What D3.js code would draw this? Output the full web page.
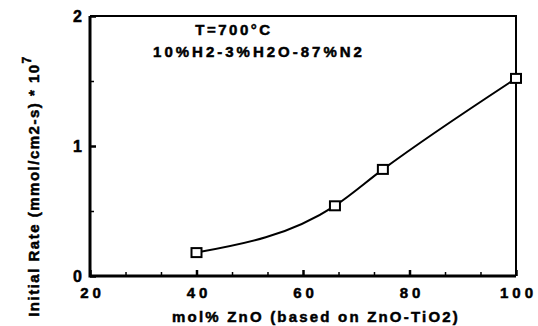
<!DOCTYPE html>
<html>
<head>
<meta charset="utf-8">
<script src="https://cdn.jsdelivr.net/npm/d3@7"></script>
<style>
  body { margin: 0; background: #fff; }
  svg { display: block; }
  text { font-family: "Liberation Sans", Arial, sans-serif; font-weight: bold; fill: #000; stroke: #000; stroke-width: 0.5px; }
</style>
</head>
<body>
<div class="chart"></div>
<script>
// mol% ZnO and initial rate (x 10^7)
const molZnO = [40, 66, 75, 100];
const rate = [0.18, 0.54, 0.82, 1.52];
const xTicks = [20, 40, 60, 80, 100];
const yTicks = [0, 1, 2];
const xMinor = [26.67, 33.33, 46.67, 53.33, 66.67, 73.33, 86.67, 93.33];
const yMinor = [0.5, 1.5];

const width = 538, height = 326;
const plotLeft = 90, plotRight = 516, plotTop = 16, plotBottom = 276;

const svg = d3.select(".chart").append("svg")
    .attr("width", width)
    .attr("height", height);

const x = d3.scaleLinear().domain([20, 100]).range([plotLeft, plotRight]);
const y = d3.scaleLinear().domain([0, 2]).range([plotBottom, plotTop]);

// frame: top/right thinner than the axes
svg.append("path")
    .attr("d", `M${plotLeft},${plotTop}H${plotRight}V${plotBottom}`)
    .attr("fill", "none")
    .attr("stroke", "#000")
    .attr("stroke-width", 2);

svg.append("path")
    .attr("d", `M${plotLeft},${plotTop}V${plotBottom}H${plotRight}`)
    .attr("fill", "none")
    .attr("stroke", "#000")
    .attr("stroke-width", 3);

// x axis
const gx = svg.append("g")
    .attr("transform", `translate(0,${plotBottom})`)
    .call(d3.axisBottom(x).tickValues(xTicks).tickSize(-6).tickPadding(11).tickFormat(d3.format("d")));
gx.select(".domain").remove();
gx.selectAll("line").attr("stroke-width", 2.5);
gx.selectAll("text")
    .style("font-size", "15px")
    .style("letter-spacing", "4px")
    .attr("dx", "2px");

svg.append("g")
    .attr("transform", `translate(0,${plotBottom})`)
    .call(d3.axisBottom(x).tickValues(xMinor).tickSize(-4).tickFormat(""))
    .call(g => g.select(".domain").remove())
    .selectAll("line").attr("stroke-width", 1.5);

// y axis
const gy = svg.append("g")
    .attr("transform", `translate(${plotLeft},0)`)
    .call(d3.axisLeft(y).tickValues(yTicks).tickSize(-6).tickPadding(8).tickFormat(d3.format("d")));
gy.select(".domain").remove();
gy.selectAll("line").attr("stroke-width", 2.5);
gy.selectAll("text").style("font-size", "16px");

svg.append("g")
    .attr("transform", `translate(${plotLeft},0)`)
    .call(d3.axisLeft(y).tickValues(yMinor).tickSize(-4).tickFormat(""))
    .call(g => g.select(".domain").remove())
    .selectAll("line").attr("stroke-width", 1.5);

// curve
const pts = molZnO.map((d, i) => [d, rate[i]]);
const line = d3.line()
    .x(d => x(d[0]))
    .y(d => y(d[1]))
    .curve(d3.curveMonotoneX);

svg.append("path")
    .datum(pts)
    .attr("fill", "none")
    .attr("stroke", "#000")
    .attr("stroke-width", 2)
    .attr("d", line);

svg.selectAll(".marker")
    .data(pts)
    .enter()
    .append("rect")
    .attr("class", "marker")
    .attr("x", d => x(d[0]) - 5)
    .attr("y", d => y(d[1]) - 4.5)
    .attr("width", 10)
    .attr("height", 9)
    .attr("fill", "#fff")
    .attr("stroke", "#000")
    .attr("stroke-width", 2);

// annotation
svg.append("text")
    .attr("x", 234).attr("y", 35)
    .attr("text-anchor", "middle")
    .style("font-size", "15px")
    .style("letter-spacing", "2.5px")
    .text("T=700°C");

svg.append("text")
    .attr("x", 259).attr("y", 57)
    .attr("text-anchor", "middle")
    .style("font-size", "15px")
    .style("letter-spacing", "3px")
    .text("10%H2-3%H2O-87%N2");

// axis titles
svg.append("text")
    .attr("x", 316).attr("y", 322)
    .attr("text-anchor", "middle")
    .style("font-size", "15px")
    .style("letter-spacing", "2.2px")
    .text("mol% ZnO (based on ZnO-TiO2)");

const yt = svg.append("text")
    .attr("transform", "translate(39,186) rotate(-90)")
    .attr("text-anchor", "middle")
    .style("font-size", "15px")
    .style("letter-spacing", "1.5px");
yt.append("tspan").text("Initial Rate (mmol/cm2-s) * 10");
yt.append("tspan").attr("dy", "-0.7em").style("font-size", "12px").text("7");
</script>
</body>
</html>
